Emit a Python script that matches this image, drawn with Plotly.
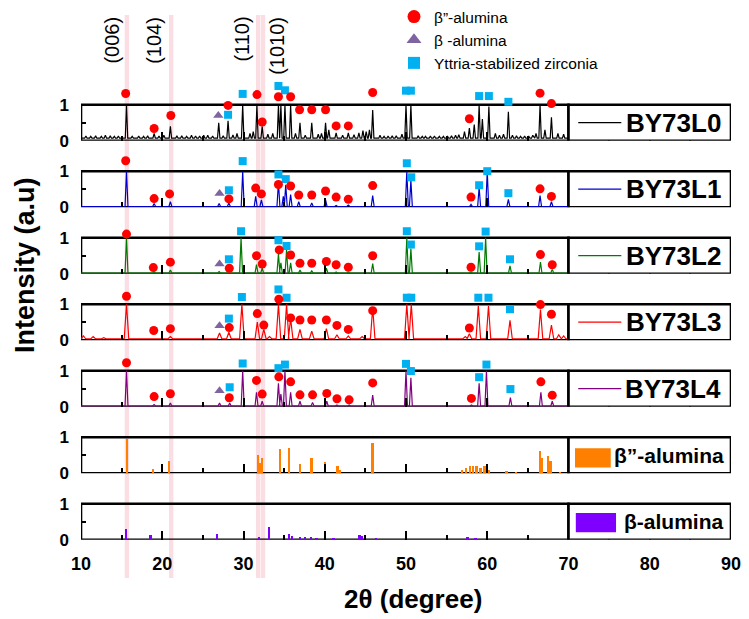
import plotly.graph_objects as go

# ---------------- data ----------------
samples = ["BY73L0", "BY73L1", "BY73L2", "BY73L3", "BY73L4"]
sample_colors = ["#000000", "#0000cc", "#007a00", "#ff0000", "#800080"]

# XRD pattern peaks (2theta, normalised intensity)
L0_x = [10.6, 11.2, 11.8, 12.5, 13.0, 13.6, 14.1, 14.6, 15.6, 16.3, 17.1, 17.7, 18.2, 19.0, 19.6, 20.2,
        21.0, 21.8, 22.4, 23.0, 23.6, 24.1, 24.6, 25.1, 25.6, 26.2, 26.95, 27.5, 28.1, 28.7, 29.2, 29.9,
        30.8, 31.2, 31.65, 32.3, 33.0, 33.6, 34.3, 34.6, 35.1, 35.8, 36.4, 36.95, 37.6, 38.4, 39.2, 39.6,
        40.1, 40.5, 41.4, 42.2, 42.9, 43.6, 44.2, 44.7, 45.1, 45.5, 45.9, 46.8, 47.3, 47.8, 48.3, 48.8,
        49.5, 50.0, 50.6, 51.5, 52.0, 52.4, 53.0, 53.5, 54.1, 54.6, 55.1, 55.6, 56.1, 56.5, 57.2, 57.8,
        58.4, 59.0, 59.4, 60.2, 61.0, 61.5, 62.0, 62.6, 63.1, 63.6, 64.1, 64.6, 65.1, 65.6, 66.0, 66.5,
        67.1, 67.9, 68.7, 69.4]
L0_y = [0.13, 0.12, 0.14, 0.12, 0.15, 0.14, 0.12, 0.13, 1.00, 0.12, 0.13, 0.12, 0.14, 0.20, 0.13, 0.15,
        0.40, 0.14, 0.14, 0.12, 0.15, 0.13, 0.13, 0.15, 0.15, 0.13, 0.50, 0.14, 0.55, 0.16, 0.20, 1.00,
        0.20, 0.25, 1.00, 0.40, 0.18, 0.20, 1.00, 1.00, 1.00, 1.00, 0.20, 0.50, 0.15, 0.50, 0.18, 0.20,
        0.50, 0.30, 0.22, 0.15, 0.22, 0.17, 0.22, 0.28, 0.25, 0.30, 0.85, 0.15, 0.12, 0.13, 0.14, 0.14,
        0.18, 1.00, 1.00, 0.14, 0.12, 0.12, 0.13, 0.13, 0.12, 0.12, 0.13, 0.14, 0.15, 0.17, 0.25, 0.35,
        0.45, 1.00, 0.60, 0.95, 0.20, 0.15, 0.18, 0.80, 0.15, 0.14, 0.12, 0.13, 0.13, 0.15, 0.20, 1.00,
        0.30, 0.65, 0.20, 0.18]

L1_x = [15.6, 19.0, 21.0, 27.0, 28.2, 29.9, 31.5, 32.2, 34.3, 34.9, 35.2, 35.8, 36.8, 38.4, 40.1, 41.4,
        42.9, 45.9, 50.1, 50.6, 58.0, 59.0, 60.0, 62.6, 66.5, 67.9]
L1_y = [1.00, 0.10, 0.15, 0.10, 0.12, 1.00, 0.30, 0.20, 0.70, 0.30, 0.62, 0.35, 0.15, 0.12, 0.20, 0.05,
        0.06, 0.32, 1.00, 0.75, 0.08, 0.55, 1.00, 0.22, 0.32, 0.15]

L2_x = [15.6, 19.0, 21.0, 27.0, 28.2, 29.7, 31.6, 32.3, 34.3, 34.6, 35.3, 35.8, 36.95, 38.4, 40.2, 41.4,
        42.9, 45.9, 50.1, 50.6, 58.0, 59.0, 59.8, 62.8, 66.55, 68.0]
L2_y = [1.00, 0.05, 0.10, 0.06, 0.08, 1.00, 0.25, 0.15, 0.55, 0.30, 0.66, 0.30, 0.10, 0.08, 0.15, 0.05,
        0.05, 0.28, 1.00, 0.70, 0.05, 0.60, 1.00, 0.22, 0.32, 0.12]

L3_x = [10.3, 11.5, 12.8, 15.6, 19.0, 21.0, 27.05, 28.2, 29.8, 31.7, 32.5, 33.2, 34.3, 35.3, 35.8, 36.95,
        38.4, 40.2, 41.5, 42.9, 44.6, 45.9, 50.1, 50.65, 57.3, 57.8, 58.9, 60.15, 62.8, 66.55, 67.9,
        68.8, 69.4]
L3_y = [0.12, 0.10, 0.07, 1.00, 0.06, 0.10, 0.20, 0.22, 1.00, 0.50, 0.30, 0.10, 1.00, 1.00, 0.60, 0.30,
        0.25, 0.32, 0.15, 0.12, 0.10, 0.90, 1.00, 1.00, 0.10, 0.18, 0.95, 0.95, 0.55, 0.85, 0.42,
        0.15, 0.12]

L4_x = [15.6, 19.0, 21.0, 27.05, 28.3, 29.9, 31.6, 32.3, 34.3, 34.6, 35.1, 35.8, 36.95, 38.5, 40.25, 41.5,
        43.0, 45.9, 50.0, 50.6, 58.05, 59.0, 59.9, 62.85, 66.6, 68.0]
L4_y = [1.00, 0.06, 0.10, 0.10, 0.10, 1.00, 0.40, 0.15, 0.65, 0.35, 1.00, 0.40, 0.15, 0.12, 0.15, 0.05,
        0.05, 0.32, 1.00, 0.80, 0.05, 0.65, 1.00, 0.25, 0.40, 0.15]

pattern_x = [L0_x, L1_x, L2_x, L3_x, L4_x]
pattern_y = [L0_y, L1_y, L2_y, L3_y, L4_y]
pattern_base = [0.07, 0.02, 0.02, 0.04, 0.02]

# phase markers per sample: beta''-alumina (circle), beta-alumina (triangle), YSZ (square)
circ_x = [
    [15.5, 19.0, 21.06, 28.1, 31.66, 32.3, 34.3, 35.8, 36.9, 38.4, 40.1, 41.4, 42.9, 45.9, 57.8, 66.5, 67.9],
    [15.5, 19.0, 20.9, 28.2, 31.5, 32.2, 34.3, 35.8, 36.8, 38.4, 40.1, 41.4, 42.9, 45.9, 58.0, 66.5, 67.9],
    [15.6, 18.9, 21.0, 28.25, 31.6, 32.3, 34.4, 35.8, 36.95, 38.4, 40.2, 41.4, 42.9, 45.9, 58.0, 66.55, 68.0],
    [15.6, 18.95, 21.0, 28.25, 31.7, 32.5, 34.35, 35.8, 36.95, 38.4, 40.2, 41.5, 42.9, 45.9, 57.8, 66.55, 67.9],
    [15.6, 19.0, 21.0, 28.25, 31.6, 32.3, 34.35, 35.8, 36.95, 38.5, 40.25, 41.5, 43.0, 45.9, 58.05, 66.6, 68.0],
]
circ_y = [
    [1.31, 0.34, 0.70, 0.98, 1.28, 0.52, 1.22, 1.22, 0.86, 0.86, 0.86, 0.41, 0.41, 1.34, 0.61, 1.32, 1.03],
    [1.29, 0.24, 0.37, 0.23, 0.53, 0.37, 0.63, 0.59, 0.34, 0.34, 0.45, 0.28, 0.22, 0.60, 0.28, 0.51, 0.30],
    [1.10, 0.17, 0.32, 0.15, 0.50, 0.27, 0.66, 0.52, 0.29, 0.29, 0.34, 0.25, 0.18, 0.50, 0.18, 0.53, 0.25],
    [1.22, 0.27, 0.32, 0.35, 0.74, 0.42, 1.14, 0.62, 0.56, 0.56, 0.56, 0.41, 0.30, 0.82, 0.34, 0.99, 0.72],
    [1.22, 0.28, 0.36, 0.25, 0.73, 0.35, 0.83, 0.69, 0.33, 0.33, 0.37, 0.22, 0.19, 0.66, 0.23, 0.69, 0.32],
]
sq_x = [
    [28.1, 29.9, 34.3, 35.1, 50.0, 50.6, 59.0, 60.2, 62.6],
    [28.2, 29.9, 34.3, 35.2, 50.1, 50.65, 59.0, 60.0, 62.6],
    [28.2, 29.7, 34.3, 35.3, 50.1, 50.6, 59.0, 59.8, 62.8],
    [28.2, 29.8, 34.3, 35.3, 50.1, 50.65, 58.9, 60.15, 62.8],
    [28.3, 29.9, 34.3, 35.1, 50.0, 50.6, 59.0, 59.9, 62.85],
]
sq_y = [
    [0.72, 1.30, 1.52, 1.40, 1.39, 1.39, 1.24, 1.24, 1.08],
    [0.47, 1.28, 0.91, 0.78, 1.22, 0.83, 0.61, 1.00, 0.39],
    [0.40, 1.18, 0.93, 0.77, 1.18, 0.81, 0.76, 1.17, 0.40],
    [0.60, 1.20, 1.41, 1.18, 1.18, 1.18, 1.18, 1.18, 0.86],
    [0.54, 1.20, 1.07, 1.17, 1.19, 0.99, 0.82, 1.17, 0.49],
]
tri_x = [[26.9], [27.05], [27.05], [27.05], [27.05]]
tri_y = [[0.70], [0.38], [0.27], [0.40], [0.44]]

# reference patterns (stick bars)
ref_names = ["β”-alumina", "β-alumina"]
ref_colors = ["#ff8000", "#7f00ff"]
bpp_x = [15.7, 18.9, 20.9, 31.8, 32.05, 32.3, 34.5, 35.65, 37.0, 38.4, 40.1, 41.6, 41.9, 45.9, 46.0,
         56.9, 57.4, 57.9, 58.3, 58.7, 59.2, 59.7, 60.2, 62.4, 63.6, 66.5, 66.8, 67.5, 67.8, 69.0]
bpp_y = [0.96, 0.14, 0.35, 0.51, 0.30, 0.44, 0.69, 0.72, 0.28, 0.44, 0.33, 0.21, 0.10, 0.86, 0.45,
         0.10, 0.15, 0.20, 0.22, 0.20, 0.15, 0.20, 0.10, 0.06, 0.05, 0.63, 0.44, 0.49, 0.35, 0.05]
bp_x = [15.6, 18.6, 26.8, 31.9, 33.2, 35.65, 36.0, 37.0, 37.6, 38.3, 39.0, 40.1, 41.1, 44.3, 44.6,
        46.3, 57.6, 58.6]
bp_y = [0.29, 0.13, 0.15, 0.08, 0.36, 0.15, 0.10, 0.06, 0.07, 0.06, 0.05, 0.06, 0.03, 0.13, 0.10,
        0.03, 0.08, 0.04]
ref_x = [bpp_x, bp_x]
ref_y = [bpp_y, bp_y]

hkl_labels = ["(006)", "(104)", "(110)", "(1010)"]
hkl_label_x = [13.7, 18.9, 29.7, 34.1]
band_x = [15.65, 21.1, 31.8, 32.4]

x_ticks = [10, 20, 30, 40, 50, 60, 70, 80, 90]

# ---------------- layout constants ----------------
W, H = 749, 619
OFF = 8                      # page offset of the figure inside the browser window
PW = 650                     # plot width in px (10..90 degrees)
ML = 81 - OFF
MR = W - ML - PW
X0, X1, XDATA = 10, 90, 70
TOP0, STEP, PH = 104.7 - OFF, 66.5, 36.0
YMAX = 1.6
NP = 7
PEAK_HW = [0.15, 0.18, 0.18, 0.28, 0.18]
FONT = "Arial, Liberation Sans, sans-serif"

marker_color = {"circ": "#ff0000", "tri": "#8064a2", "sq": "#00b0f0"}


def axn(i, kind):
    return kind if i == 1 else f"{kind}{i}"


def py(screen_y):
    return 1 - (screen_y - OFF) / H


def px(screen_x):
    return (screen_x - OFF - ML) / PW


def profile(pxs, pys, base, hw):
    xs, ys = [X0], [base]
    for p, h in sorted(zip(pxs, pys)):
        xs += [p - hw, p, p + hw]
        ys += [base, h, base]
    xs.append(XDATA)
    ys.append(base)
    return xs, ys


fig = go.Figure()
shapes = []
annotations = []

# pink reference bands
for b in band_x:
    shapes.append(dict(type="rect", xref="x", yref="paper", x0=b - 0.27, x1=b + 0.27,
                       y0=py(578), y1=py(15), fillcolor="#f4b6c4", opacity=0.45,
                       line=dict(width=0), layer="below"))

for i in range(1, NP + 1):
    xa, ya = axn(i, "x"), axn(i, "y")
    k = i - 1
    if k < 5:
        xs, ys = profile(pattern_x[k], pattern_y[k], pattern_base[k], PEAK_HW[k])
        fig.add_trace(go.Scatter(x=xs, y=ys, mode="lines", xaxis=xa, yaxis=ya,
                                 line=dict(color=sample_colors[k], width=1.2), showlegend=False,
                                 hoverinfo="skip"))
        for key, mx, my, sym, size in [("tri", tri_x, tri_y, "triangle-up", 9),
                                       ("sq", sq_x, sq_y, "square", 8),
                                       ("circ", circ_x, circ_y, "circle", 9)]:
            fig.add_trace(go.Scatter(x=mx[k], y=my[k], mode="markers", xaxis=xa, yaxis=ya,
                                     marker=dict(symbol=sym, size=size, color=marker_color[key]),
                                     cliponaxis=False, showlegend=False))
    else:
        r = k - 5
        fig.add_trace(go.Bar(x=ref_x[r], y=ref_y[r], width=0.22, xaxis=xa, yaxis=ya,
                             marker=dict(color=ref_colors[r], line=dict(width=0)), showlegend=False))

    # data box
    shapes.append(dict(type="rect", xref=xa, yref=ya, x0=X0, x1=XDATA, y0=0, y1=1,
                       line=dict(color="black", width=2.6), layer="below"))
    # legend box (white, hides the axis ticks beyond 70)
    shapes.append(dict(type="rect", xref=xa, yref=ya, x0=XDATA, x1=X1, y0=0, y1=1,
                       fillcolor="white", line=dict(color="black", width=2.6), layer="above"))
    if k < 5:
        shapes.append(dict(type="line", xref=xa, yref=ya, x0=71.2, x1=76.5, y0=0.5, y1=0.5,
                           line=dict(color=sample_colors[k], width=1.3), layer="above"))
        annotations.append(dict(x=82.9, y=0.5, xref=xa, yref=ya, text=samples[k], showarrow=False,
                                xanchor="center", yanchor="middle",
                                font=dict(family=FONT, size=26, color="black", weight="bold")))
    else:
        r = k - 5
        sw = [(70.8, 75.2, 0.16, 0.69), (70.9, 75.85, 0.21, 0.74)][r]
        shapes.append(dict(type="rect", xref=xa, yref=ya, x0=sw[0], x1=sw[1], y0=sw[2], y1=sw[3],
                           fillcolor=ref_colors[r], line=dict(width=0), layer="above"))
        annotations.append(dict(x=[82.4, 82.9][r], y=0.5, xref=xa, yref=ya, text=ref_names[r],
                                showarrow=False, xanchor="center", yanchor="middle",
                                font=dict(family=FONT, size=21, color="black", weight="bold")))

# legend-only marker entries
for name, sym, col, size in [("β”-alumina", "circle", marker_color["circ"], 13),
                             ("β -alumina", "triangle-up", marker_color["tri"], 13),
                             ("Yttria-stabilized zirconia", "square", marker_color["sq"], 12)]:
    fig.add_trace(go.Scatter(x=[None], y=[None], mode="markers", name=name,
                             marker=dict(symbol=sym, size=size, color=col), showlegend=True))

# hkl labels
for t, xv in zip(hkl_labels, hkl_label_x):
    annotations.append(dict(x=xv, y=py(15), xref="x", yref="paper", text=t, textangle=-90,
                            yanchor="top", xanchor="center", showarrow=False,
                            font=dict(family=FONT, size=20, color="black")))

# axis titles
annotations.append(dict(x=px(413), y=py(599), xref="paper", yref="paper",
                        text="2θ (degree)", showarrow=False, xanchor="center", yanchor="middle",
                        font=dict(family=FONT, size=26, color="black", weight="bold")))
annotations.append(dict(x=px(25), y=py(265), xref="paper", yref="paper",
                        text="Intensity (a.u)", textangle=-90, showarrow=False,
                        xanchor="center", yanchor="middle",
                        font=dict(family=FONT, size=27, color="black", weight="bold")))

layout = dict(width=W, height=H, margin=dict(l=ML, r=MR, t=0, b=0, autoexpand=False),
              paper_bgcolor="white", plot_bgcolor="rgba(0,0,0,0)",
              shapes=shapes, annotations=annotations, bargap=0,
              legend=dict(x=px(394), y=py(0), xanchor="left", yanchor="top",
                          bgcolor="rgba(0,0,0,0)", font=dict(family=FONT, size=15.5, color="black"),
                          tracegroupgap=0, itemsizing="trace"))

for i in range(1, NP + 1):
    top = TOP0 + STEP * (i - 1)
    bot = top + PH
    xa_key = "xaxis" if i == 1 else f"xaxis{i}"
    ya_key = "yaxis" if i == 1 else f"yaxis{i}"
    layout[xa_key] = dict(range=[X0, X1], anchor=axn(i, "y"), tickmode="array", tickvals=x_ticks,
                          ticks="inside", ticklen=9, tickwidth=2, tickcolor="black",
                          minor=dict(dtick=5, tick0=X0, ticks="inside", ticklen=5, tickwidth=2,
                                     tickcolor="black"),
                          showgrid=False, zeroline=False, showline=False,
                          showticklabels=(i == NP), ticklabelstandoff=11,
                          tickfont=dict(family=FONT, size=18, color="black", weight="bold"))
    if i > 1:
        layout[xa_key]["matches"] = "x"
    layout[ya_key] = dict(domain=[1 - bot / H, 1 - (bot - YMAX * PH) / H], range=[0, YMAX],
                          anchor=axn(i, "x"),
                          tickmode="array", tickvals=[0, 0.5, 1], ticktext=["0", "", "1"],
                          ticks="inside", ticklen=5, tickwidth=2, tickcolor="black",
                          showgrid=False, zeroline=False, showline=False, ticklabelstandoff=11,
                          tickfont=dict(family=FONT, size=17, color="black", weight="bold"))

fig.update_layout(**layout)
fig.write_html("out.html")
